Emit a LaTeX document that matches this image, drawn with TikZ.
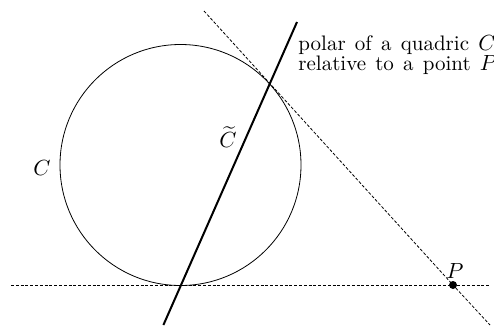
\documentclass[tikz,border=0pt]{standalone}
\usepackage{amsmath}
\begin{document}
\begin{tikzpicture}[x=0.5pt,y=-0.5pt,
  thinline/.style={line width=0.4pt},
  dashline/.style={line width=0.4pt,dash pattern=on 1.5pt off 0.9pt},
  polarline/.style={line width=1pt},
  lbl/.style={inner sep=0pt,font=\fontsize{10.5}{10.5}\selectfont},
  dot/.style={circle,fill=black,inner sep=0pt,minimum size=4pt}]
\useasboundingbox (0,0) rectangle (494,333);
\coordinate (O) at (180.5,165);
\node[dot] (P) at (453,285) {};
\coordinate (T1) at (180.5,285);
\coordinate (T2) at (269.6,84.1);
\coordinate (HL) at (11,285);
\coordinate (HR) at (490,285);
\coordinate (DT) at (204,11);
\coordinate (DB) at (490,325);
\coordinate (PB) at (163.4,325);
\coordinate (PT) at (297,22);
\draw[thinline] (O) circle[radius=120.5];
\draw[dashline] (HL) -- (P.center) -- (HR);
\draw[dashline] (DT) -- (P.center) -- (DB);
\draw[polarline] (PB) -- (PT);
\node[lbl] (lc) at (42,168) {$C$};
\node[lbl] (lct) at (228,137) {$\widetilde{C}$};
\node[lbl,anchor=south] (lp) at (455,279) {$P$};
\node[lbl,anchor=base west] (t1) at (298,50) {\spaceskip=4.6pt polar of a quadric $C$};
\node[lbl,anchor=base west] (t2) at (298,70.5) {\spaceskip=4.6pt relative to a point $P$};
\end{tikzpicture}
\end{document}
